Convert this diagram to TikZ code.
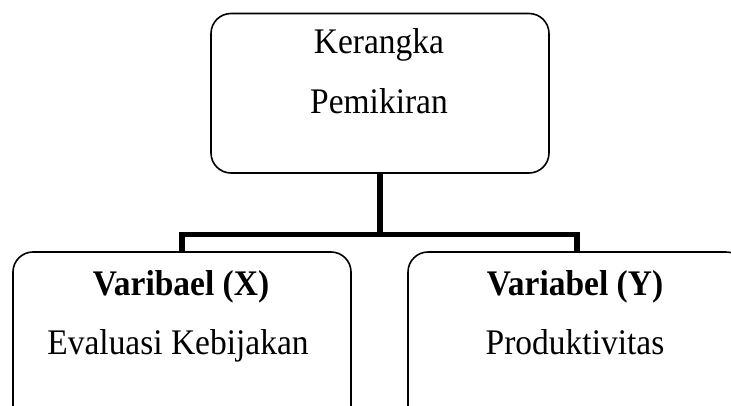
\documentclass[tikz,border=0pt]{standalone}
\usepackage{fontspec}
\setmainfont{Liberation Serif}
\begin{document}
\begin{tikzpicture}[x=1pt,y=-1pt]
\tikzset{
  box/.style={draw, line width=1.6pt, rounded corners=20pt, inner sep=0pt, fill=white},
  link/.style={line width=5.5pt},
  lbl/.style={font=\fontsize{36}{42}\selectfont, anchor=base, inner sep=0pt, xscale=0.93}
}
\useasboundingbox (0,0) rectangle (731,406);
\clip (0,0) rectangle (731,406);
\node[box, minimum width=338pt, minimum height=159.5pt] (top) at (380,93.25) {};
\node[box, minimum width=338pt, minimum height=178pt] (left) at (182,341) {};
\node[box, minimum width=338pt, minimum height=178pt] (right) at (577,341) {};
\coordinate (j) at (380,234.5);
\draw[link] (top.south) -- (j);
\draw[link] (left.north) |- (j) -| (right.north);
\node[lbl] (t1) at (379,54) {Kerangka};
\node[lbl] (t2) at (379,114) {Pemikiran};
\node[lbl] (x1) at (181,295) {\textbf{Varibael (X)}};
\node[lbl] (x2) at (178,354) {Evaluasi Kebijakan};
\node[lbl] (y1) at (575,295) {\textbf{Variabel (Y)}};
\node[lbl] (y2) at (575,354) {Produktivitas};
\end{tikzpicture}
\end{document}
